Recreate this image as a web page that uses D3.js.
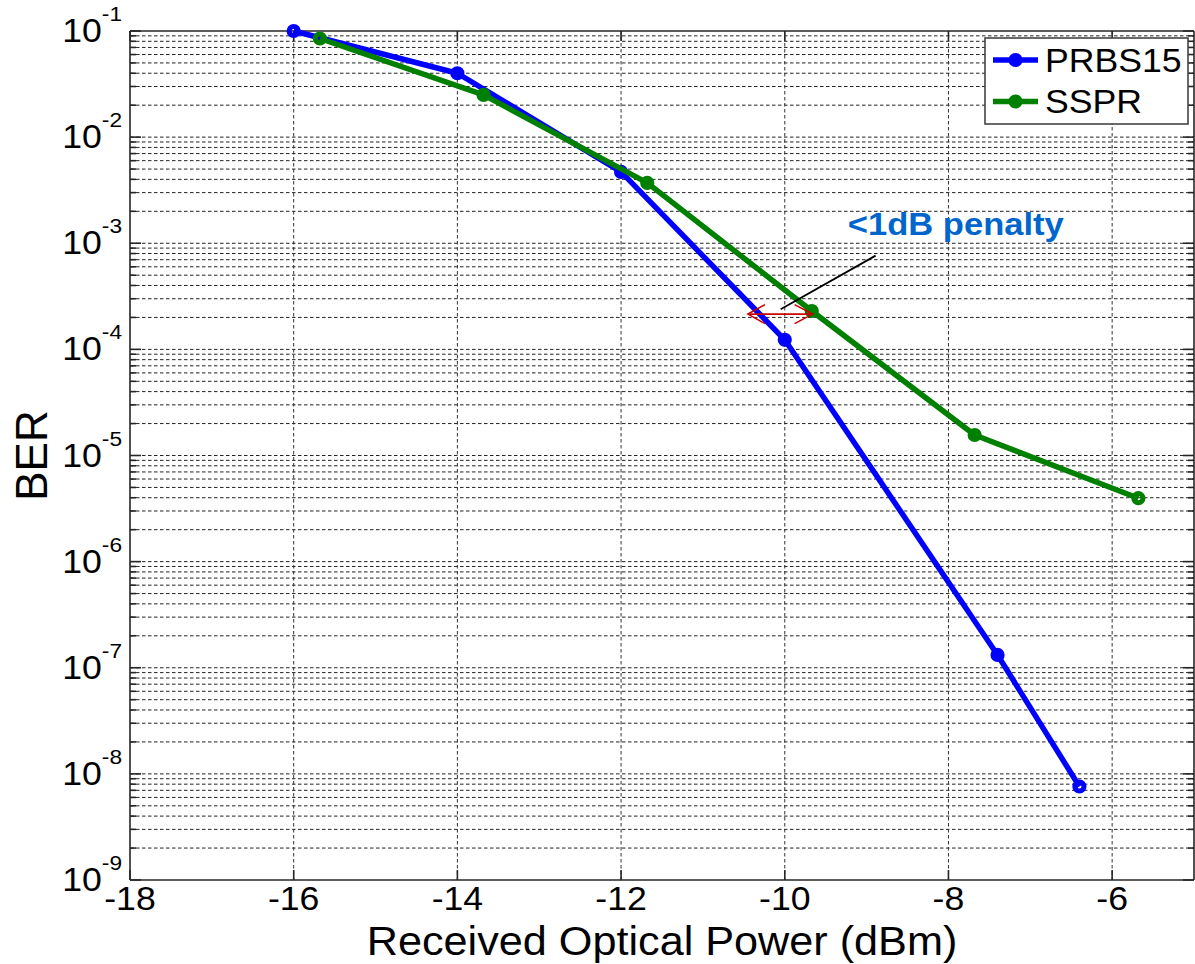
<!DOCTYPE html>
<html>
<head>
<meta charset="utf-8">
<script src="https://cdn.jsdelivr.net/npm/d3@7"></script>
<style>
  html, body { margin: 0; padding: 0; background: #fff; }
  svg text { font-family: "Liberation Sans", Arial, sans-serif; }
</style>
</head>
<body>
<svg id="chart" width="1195" height="964"></svg>
<script>
// BER versus received optical power for two test patterns
const xTicks = [-18, -16, -14, -12, -10, -8, -6];
const yExponents = [-1, -2, -3, -4, -5, -6, -7, -8, -9];

const prbsPower = [-16, -14, -12, -10, -7.4, -6.4];
const prbsBER   = [0.1, 0.040, 0.0047, 1.23e-4, 1.32e-7, 7.6e-9];

const ssprPower = [-15.68, -13.68, -11.68, -9.67, -7.68, -5.68];
const ssprBER   = [0.085, 0.025, 0.0037, 2.3e-4, 1.56e-5, 3.96e-6];

const seriesNames  = ["PRBS15", "SSPR"];
const seriesColors = ["#0000ff", "#008000"];

const annotationText = "<1dB penalty";
const penaltyFrom = -10.45, penaltyTo = -9.66, penaltyBER = 2.15e-4;

const W = 1195, H = 964;
const plot = { left: 130, right: 1194, top: 31, bottom: 880 };
const SX = 1.08; // horizontal text stretch

const svg = d3.select("#chart");
svg.append("rect").attr("width", W).attr("height", H).attr("fill", "#fff");

const x = d3.scaleLinear().domain([-18, -5]).range([plot.left, plot.right]);
const y = d3.scaleLog().domain([1e-9, 1e-1]).range([plot.bottom, plot.top]);

function stretchedText(g, px, py) {
  return g.append("text").attr("transform", `translate(${px},${py}) scale(${SX},1)`);
}

// grid: horizontal lines on every decade subdivision, vertical on x ticks
const gridVals = [];
for (let e = -9; e <= -1; e++) {
  for (let m = 1; m <= 9; m++) {
    const v = m * Math.pow(10, e);
    if (v <= 0.1 * 1.0001 && v >= 1e-9) gridVals.push(v);
  }
}
const grid = svg.append("g");
grid.selectAll("line.h").data(gridVals.filter(v => v < 0.1 * 0.999 && v > 1e-9 * 1.001))
  .join("line")
  .attr("x1", plot.left).attr("x2", plot.right)
  .attr("y1", d => y(d)).attr("y2", d => y(d))
  .attr("stroke", "#222").attr("stroke-width", 1)
  .attr("stroke-dasharray", "3.5,2.5");
grid.selectAll("line.v").data(xTicks.filter(t => t > -18))
  .join("line")
  .attr("x1", d => x(d)).attr("x2", d => x(d))
  .attr("y1", plot.top).attr("y2", plot.bottom)
  .attr("stroke", "#333").attr("stroke-width", 1)
  .attr("stroke-dasharray", "3.5,2.5");

// axes box and ticks
const axes = svg.append("g").attr("stroke", "#262626").attr("stroke-width", 1.6);
axes.append("line").attr("x1", plot.left).attr("x2", plot.right).attr("y1", plot.top).attr("y2", plot.top);
axes.append("line").attr("x1", plot.left).attr("x2", plot.right).attr("y1", plot.bottom).attr("y2", plot.bottom);
axes.append("line").attr("x1", plot.left).attr("x2", plot.left).attr("y1", plot.top).attr("y2", plot.bottom);
axes.append("line").attr("x1", plot.right).attr("x2", plot.right).attr("y1", plot.top).attr("y2", plot.bottom);

xTicks.forEach(t => {
  axes.append("line").attr("x1", x(t)).attr("x2", x(t)).attr("y1", plot.bottom).attr("y2", plot.bottom - 10);
  axes.append("line").attr("x1", x(t)).attr("x2", x(t)).attr("y1", plot.top).attr("y2", plot.top + 10);
});
gridVals.forEach(v => {
  const major = Math.abs(Math.log10(v) - Math.round(Math.log10(v))) < 1e-6;
  const len = major ? 11 : 6;
  axes.append("line").attr("x1", plot.left).attr("x2", plot.left + len).attr("y1", y(v)).attr("y2", y(v));
  axes.append("line").attr("x1", plot.right).attr("x2", plot.right - len).attr("y1", y(v)).attr("y2", y(v));
});

// tick labels
const labels = svg.append("g").attr("fill", "#000");
xTicks.forEach(t => {
  stretchedText(labels, x(t), 910)
    .attr("text-anchor", "middle").attr("font-size", 33).text(t);
});
yExponents.forEach(e => {
  const t = stretchedText(labels, plot.left - 8, y(Math.pow(10, e)) + 11)
    .attr("text-anchor", "end").attr("font-size", 33);
  t.append("tspan").text("10");
  t.append("tspan").attr("font-size", 21).attr("dy", -21).text(e);
});

// axis titles
stretchedText(labels, (plot.left + plot.right) / 2, 955)
  .attr("text-anchor", "middle").attr("font-size", 40).text("Received Optical Power (dBm)");
labels.append("text")
  .attr("transform", `translate(47,${(plot.top + plot.bottom) / 2}) rotate(-90)`)
  .attr("text-anchor", "middle").attr("font-size", 44).text("BER");

// data series
const series = [
  { name: seriesNames[0], color: seriesColors[0], xs: prbsPower, ys: prbsBER },
  { name: seriesNames[1], color: seriesColors[1], xs: ssprPower, ys: ssprBER }
];
const line = d3.line().x(d => x(d[0])).y(d => y(d[1]));
const marks = svg.append("g");
series.forEach(s => {
  const pts = s.xs.map((v, i) => [v, s.ys[i]]);
  marks.append("path").datum(pts)
    .attr("d", line).attr("fill", "none")
    .attr("stroke", s.color).attr("stroke-width", 5.5)
    .attr("stroke-linejoin", "round");
  marks.selectAll(null).data(pts).join("circle")
    .attr("cx", d => x(d[0])).attr("cy", d => y(d[1]))
    .attr("r", 4.6).attr("fill", "none")
    .attr("stroke", s.color).attr("stroke-width", 5);
});

// penalty annotation
const ann = svg.append("g");
const ay = y(penaltyBER);
const ax1 = x(penaltyFrom), ax2 = x(penaltyTo);
ann.append("line").attr("x1", ax1).attr("x2", ax2).attr("y1", ay).attr("y2", ay)
  .attr("stroke", "#cc0000").attr("stroke-width", 1.6);
ann.append("path")
  .attr("d", `M${ax1 + 17},${ay - 9.5}L${ax1},${ay}L${ax1 + 17},${ay + 9.5}`)
  .attr("fill", "none").attr("stroke", "#cc0000").attr("stroke-width", 1.6);
ann.append("path")
  .attr("d", `M${ax2 - 18},${ay - 9.5}L${ax2},${ay}L${ax2 - 18},${ay + 9.5}`)
  .attr("fill", "none").attr("stroke", "#cc0000").attr("stroke-width", 1.6);
ann.append("line")
  .attr("x1", x(-10.05)).attr("y1", y(2.39e-4))
  .attr("x2", x(-8.89)).attr("y2", y(7.64e-4))
  .attr("stroke", "#000").attr("stroke-width", 1.8);
stretchedText(ann, x(-9.23), y(1.2e-3))
  .attr("font-size", 32).attr("font-weight", "bold").attr("fill", "#0066cc")
  .text(annotationText);

// legend
const lg = svg.append("g");
lg.append("rect").attr("x", 985).attr("y", 38).attr("width", 203).attr("height", 86)
  .attr("fill", "#fff").attr("stroke", "#444").attr("stroke-width", 1.6);
series.forEach((s, i) => {
  const ly = 60 + i * 41.5;
  lg.append("line").attr("x1", 993).attr("x2", 1038).attr("y1", ly).attr("y2", ly)
    .attr("stroke", s.color).attr("stroke-width", 5.5);
  lg.append("circle").attr("cx", 1015.5).attr("cy", ly).attr("r", 4.6)
    .attr("fill", "none").attr("stroke", s.color).attr("stroke-width", 5);
  stretchedText(lg, 1045, ly + 11.5).attr("font-size", 33).attr("fill", "#000").text(s.name);
});
</script>
</body>
</html>
